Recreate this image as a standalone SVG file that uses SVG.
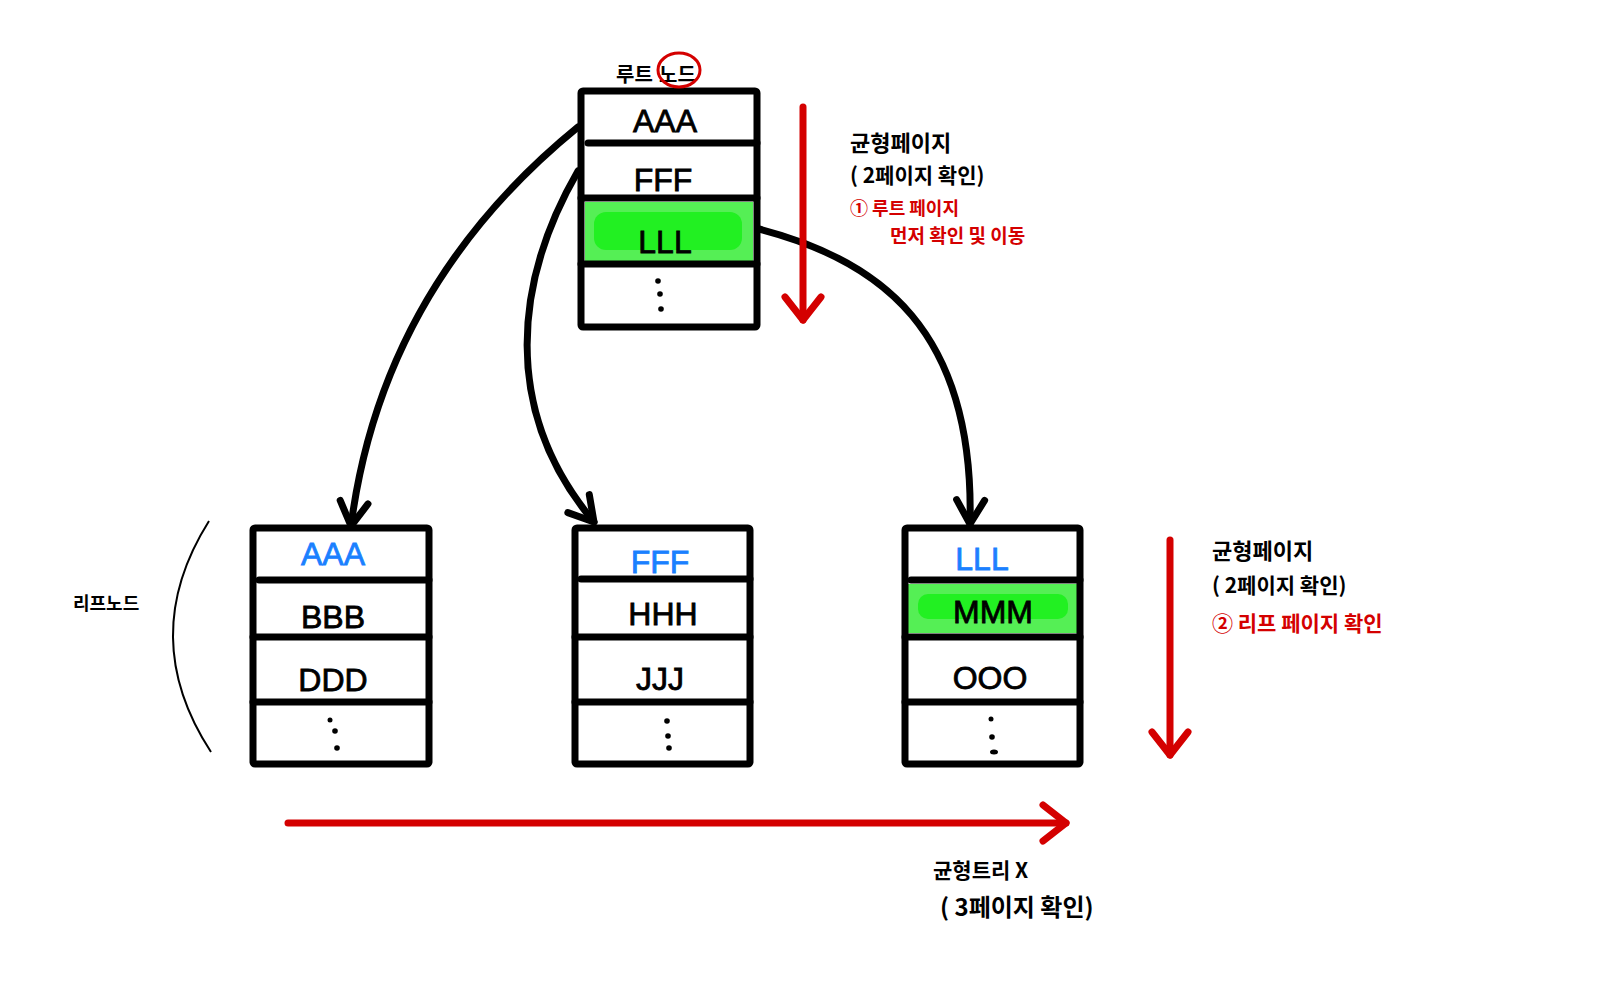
<svg xmlns="http://www.w3.org/2000/svg" width="1597" height="1000" viewBox="0 0 1597 1000">
  <style>
    .box { fill: none; stroke: #000; stroke-width: 7; stroke-linejoin: round; }
    .div { stroke: #000; stroke-width: 7; stroke-linecap: round; }
    .hl { fill: #55ef55; }
    .hl2 { fill: #22f022; }
    .key { font-family: "Liberation Sans", Arial, sans-serif; font-size: 32px; text-anchor: middle; fill: #000; stroke: #000; stroke-width: 0.8; }
    .blue { fill: #1a80ff; stroke: #1a80ff; }
    .dot { fill: #000; }
    .ko { font-family: "Noto Sans CJK KR", "Noto Sans", sans-serif; font-weight: 700; fill: #000; }
    .red { fill: #d40000; }
    .conn { fill: none; stroke: #000; stroke-width: 7; stroke-linecap: round; }
    .rarrow { fill: none; stroke: #d40000; stroke-width: 7; stroke-linecap: round; stroke-linejoin: round; }
    .thin { fill: none; stroke: #000; stroke-width: 2; }
  </style>
  <defs>
    <marker id="bh" markerUnits="userSpaceOnUse" orient="auto" markerWidth="60" markerHeight="60" viewBox="-30 -30 60 60" refX="0" refY="0" overflow="visible">
      <path d="M-24,-14 L0,0 L-24,14" fill="none" stroke="#000" stroke-width="7" stroke-linecap="round" stroke-linejoin="round"/>
    </marker>
    <marker id="rh" markerUnits="userSpaceOnUse" orient="auto" markerWidth="60" markerHeight="60" viewBox="-30 -30 60 60" refX="0" refY="0" overflow="visible">
      <path d="M-23,-18 L0,0 L-23,18" fill="none" stroke="#d40000" stroke-width="7" stroke-linecap="round" stroke-linejoin="round"/>
    </marker>
  </defs>
  <rect width="1597" height="1000" fill="#fff"/>

  <!-- Connectors -->
  <g id="connectors">
    <path class="conn" d="M578,127 C470,215 375,340 351,526" marker-end="url(#bh)"/>
    <path class="conn" d="M578,171 C515,280 500,410 594,522" marker-end="url(#bh)"/>
    <path class="conn" d="M759,229 C880,260 975,330 970,524" marker-end="url(#bh)"/>
    <path class="rarrow" d="M803,107 L803,320" marker-end="url(#rh)"/>
    <path class="rarrow" d="M1170,540 L1170,755" marker-end="url(#rh)"/>
    <path class="rarrow" d="M288,823 L1066,823" marker-end="url(#rh)"/>
  </g>

  <!-- Root node -->
  <g id="root-node">
    <rect class="hl" x="585" y="202" width="168" height="60"/>
    <rect class="hl2" x="594" y="212" width="148" height="38" rx="12"/>
    <rect class="box" x="581" y="91" width="176" height="236" rx="2"/>
    <line class="div" x1="588" y1="143" x2="757" y2="143"/>
    <line class="div" x1="581" y1="198" x2="757" y2="198"/>
    <line class="div" x1="581" y1="264" x2="757" y2="264"/>
    <text class="key" x="665" y="132" font-size="36">AAA</text>
    <text class="key" x="663" y="191" font-size="36">FFF</text>
    <text class="key" x="665" y="253" font-size="36">LLL</text>
    <circle class="dot" cx="658" cy="281" r="2.8"/>
    <circle class="dot" cx="660" cy="294" r="2.8"/>
    <circle class="dot" cx="661" cy="309" r="2.8"/>
  </g>
  <g id="root-label">
    <text class="ko" y="82" font-size="20"><tspan x="616">루트</tspan> <tspan x="659">노드</tspan></text>
    <ellipse cx="679" cy="70" rx="21" ry="17" fill="none" stroke="#d40000" stroke-width="3"/>
  </g>

  <!-- Leaf left -->
  <g id="leaf-left">
    <rect class="box" x="253" y="528" width="176" height="236" rx="2"/>
    <line class="div" x1="259" y1="580" x2="429" y2="580"/>
    <line class="div" x1="253" y1="637" x2="429" y2="637"/>
    <line class="div" x1="253" y1="702" x2="429" y2="702"/>
    <text class="key blue" x="333" y="565" font-size="30">AAA</text>
    <text class="key" x="333" y="628">BBB</text>
    <text class="key" x="333" y="691">DDD</text>
    <circle class="dot" cx="330" cy="720" r="2.5"/>
    <circle class="dot" cx="335" cy="731" r="2.8"/>
    <circle class="dot" cx="337" cy="748" r="2.8"/>
  </g>

  <!-- Leaf middle -->
  <g id="leaf-middle">
    <rect class="box" x="575" y="528" width="175" height="236" rx="2"/>
    <line class="div" x1="581" y1="579" x2="750" y2="579"/>
    <line class="div" x1="575" y1="637" x2="750" y2="637"/>
    <line class="div" x1="575" y1="702" x2="750" y2="702"/>
    <text class="key blue" x="660" y="573">FFF</text>
    <text class="key" x="663" y="625">HHH</text>
    <text class="key" x="660" y="690">JJJ</text>
    <circle class="dot" cx="667" cy="721" r="2.8"/>
    <circle class="dot" cx="668" cy="736" r="2.8"/>
    <circle class="dot" cx="669" cy="748" r="2.8"/>
  </g>

  <!-- Leaf right -->
  <g id="leaf-right">
    <rect class="hl" x="908" y="584" width="169" height="49"/>
    <rect class="hl2" x="918" y="594" width="150" height="25" rx="10"/>
    <rect class="box" x="905" y="528" width="175" height="236" rx="2"/>
    <line class="div" x1="911" y1="580" x2="1080" y2="580"/>
    <line class="div" x1="905" y1="637" x2="1080" y2="637"/>
    <line class="div" x1="905" y1="702" x2="1080" y2="702"/>
    <text class="key blue" x="982" y="570">LLL</text>
    <text class="key" x="993" y="623">MMM</text>
    <text class="key" x="990" y="689">OOO</text>
    <circle class="dot" cx="991" cy="719" r="2.5"/>
    <circle class="dot" cx="992" cy="737" r="2.8"/>
    <ellipse class="dot" cx="994" cy="752" rx="4" ry="2.5"/>
  </g>

  <!-- Annotations -->
  <g id="leaf-label">
    <path class="thin" d="M209,521 Q136,637 211,752"/>
    <text class="ko" x="73" y="610" font-size="18">리프노드</text>
  </g>
  <g id="note-root">
    <text class="ko" x="850" y="151" font-size="22">균형페이지</text>
    <text class="ko" x="850" y="183" font-size="21">( 2페이지 확인)</text>
    <text class="ko red" x="850" y="215" font-size="18">① 루트 페이지</text>
    <text class="ko red" x="890" y="243" font-size="19">먼저 확인 및 이동</text>
  </g>
  <g id="note-leaf">
    <text class="ko" x="1212" y="559" font-size="22">균형페이지</text>
    <text class="ko" x="1212" y="593" font-size="21">( 2페이지 확인)</text>
    <text class="ko red" x="1212" y="631" font-size="21">② 리프 페이지 확인</text>
  </g>
  <g id="note-bottom">
    <text class="ko" x="933" y="878" font-size="21">균형트리 X</text>
    <text class="ko" x="940" y="916" font-size="24">( 3페이지 확인)</text>
  </g>
</svg>
